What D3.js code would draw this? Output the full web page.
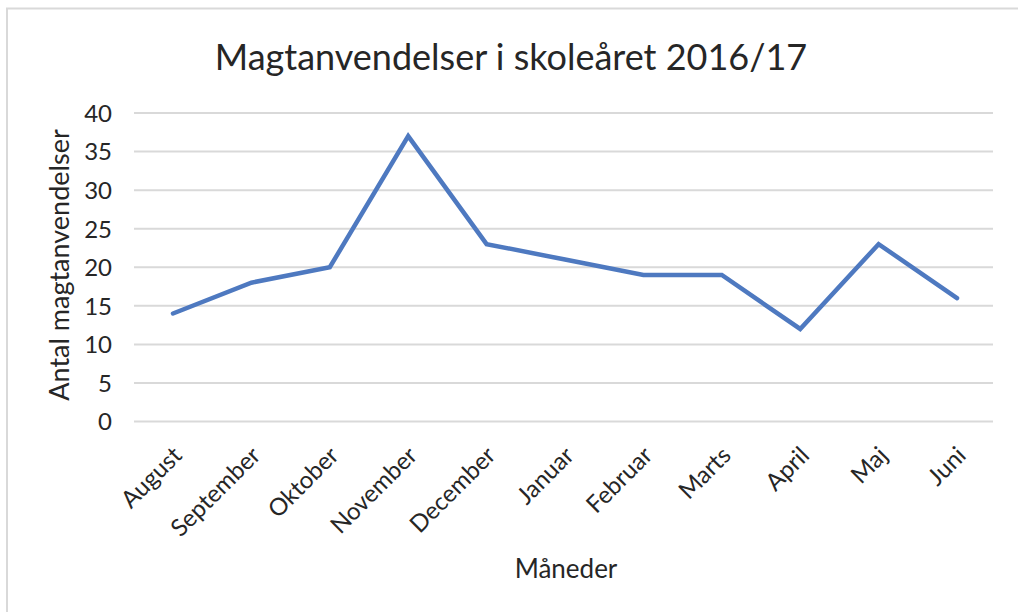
<!DOCTYPE html>
<html>
<head>
<meta charset="utf-8">
<script src="https://cdn.jsdelivr.net/npm/d3@7"></script>
<style>
  body { margin: 0; background: #fff; }
  text { font-family: Lato, "Open Sans", sans-serif; fill: #262626; }
</style>
</head>
<body>
<div id="chart"></div>
<script>
let months = ["August", "September", "Oktober", "November", "December", "Januar", "Februar", "Marts", "April", "Maj", "Juni"]
let counts = [14, 18, 20, 37, 23, 21, 19, 19, 12, 23, 16]
let yTicks = [0, 5, 10, 15, 20, 25, 30, 35, 40]

let width = 1018,
  height = 612

let svg = d3.select("#chart").append("svg")
  .attr("width", width)
  .attr("height", height)

// chart frame (cropped: only top and left edges show)
svg.append("path")
  .attr("d", "M7,612V8.5H1018")
  .attr("fill", "none")
  .attr("stroke", "#d9d9d9")
  .attr("stroke-width", 2)

let x = d3.scalePoint()
  .domain(months)
  .range([173, 957])

let y = d3.scaleLinear()
  .domain([0, 40])
  .range([421.5, 113])

// gridlines
svg.append("g")
  .selectAll("line")
  .data(yTicks)
  .enter().append("line")
  .attr("x1", 134)
  .attr("x2", 993)
  .attr("y1", d => y(d))
  .attr("y2", d => y(d))
  .attr("stroke", "#d9d9d9")
  .attr("stroke-width", 2)

// y axis labels
let yAxis = svg.append("g")
  .attr("transform", "translate(112,0)")
  .call(d3.axisLeft(y).tickValues(yTicks).tickSize(0).tickPadding(0))
yAxis.select(".domain").remove()
yAxis.selectAll("text")
  .attr("font-size", 24)
  .attr("dy", "0.35em")
  .style("font-family", "Lato, 'Open Sans', sans-serif")
  .attr("fill", "#262626")

// x axis labels, rotated 45 degrees
let xAxis = svg.append("g")
  .attr("transform", "translate(0,436)")
  .call(d3.axisBottom(x).tickSize(0).tickPadding(0))
xAxis.select(".domain").remove()
xAxis.selectAll("text")
  .attr("font-size", 24)
  .attr("text-anchor", "end")
  .attr("x", 0)
  .attr("y", 0)
  .attr("dy", "0.35em")
  .attr("transform", "translate(4,15) rotate(-45)")
  .style("font-family", "Lato, 'Open Sans', sans-serif")
  .attr("fill", "#262626")

// series line
let line = d3.line()
  .x((d, i) => x(months[i]))
  .y(d => y(d))

svg.append("path")
  .datum(counts)
  .attr("d", line)
  .attr("fill", "none")
  .attr("stroke", "#4e79c0")
  .attr("stroke-width", 4.5)
  .attr("stroke-linejoin", "miter")
  .attr("stroke-linecap", "round")

// titles
svg.append("text")
  .attr("x", 511)
  .attr("y", 70)
  .attr("text-anchor", "middle")
  .attr("font-size", 36)
  .text("Magtanvendelser i skoleåret 2016/17")

svg.append("text")
  .attr("x", 566)
  .attr("y", 578)
  .attr("text-anchor", "middle")
  .attr("font-size", 26)
  .text("Måneder")

svg.append("text")
  .attr("transform", "translate(69,265) rotate(-90)")
  .attr("text-anchor", "middle")
  .attr("font-size", 27)
  .text("Antal magtanvendelser")
</script>
</body>
</html>
